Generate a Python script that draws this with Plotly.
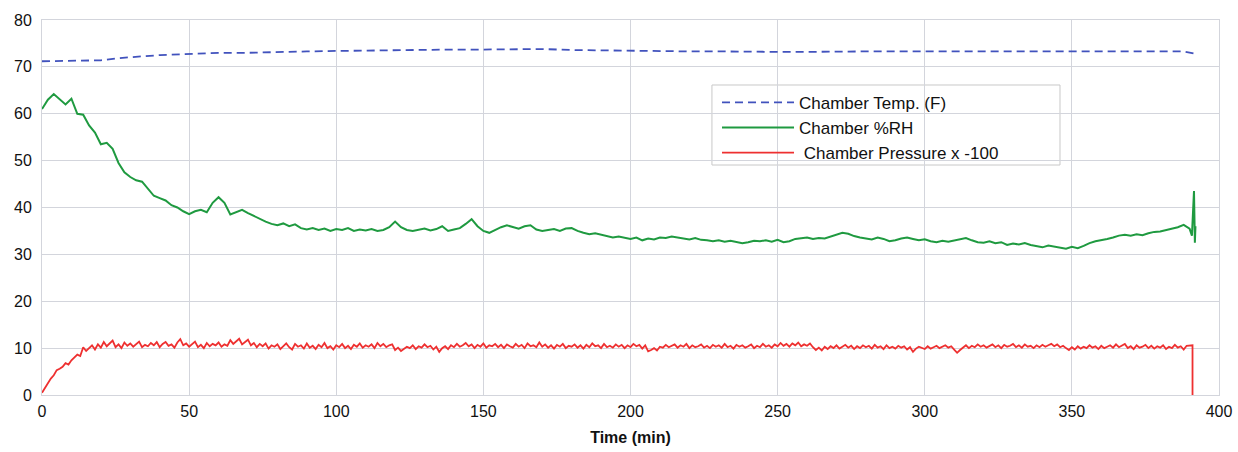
import plotly.graph_objects as go

# Chamber temperature (F)
temp_t = [0, 10, 20, 25, 30, 35, 40, 50, 60, 70, 80, 90, 100, 110, 120, 130, 140, 150, 160, 170,
          180, 190, 200, 210, 220, 230, 240, 250, 260, 270, 280, 290, 300, 310, 320, 330, 340, 350,
          360, 370, 380, 388, 392]
temp_v = [71.2, 71.3, 71.4, 71.8, 72.1, 72.3, 72.5, 72.8, 73.0, 73.0, 73.2, 73.3, 73.4, 73.5, 73.6,
          73.6, 73.7, 73.7, 73.8, 73.8, 73.6, 73.5, 73.4, 73.4, 73.3, 73.3, 73.2, 73.2, 73.2, 73.3,
          73.3, 73.3, 73.3, 73.3, 73.3, 73.3, 73.3, 73.3, 73.3, 73.2, 73.2, 73.3, 72.8]

# Chamber %RH, every 2 min from 0 to 390, then end spike
rh_main = [
    61.0, 63.0, 64.2, 63.2, 62.0, 63.2, 60.0, 59.8, 57.5, 56.0,
    53.5, 53.8, 52.5, 49.5, 47.5, 46.5, 45.8, 45.5, 44.0, 42.5,
    42.0, 41.5, 40.5, 40.0, 39.2, 38.6, 39.2, 39.5, 39.0, 41.0,
    42.2, 41.0, 38.5, 39.0, 39.5, 38.8, 38.2, 37.5, 37.0, 36.5,
    36.2, 36.6, 36.0, 36.4, 35.6, 35.3, 35.6, 35.2, 35.5, 35.0,
    35.4, 35.2, 35.6, 35.0, 35.3, 35.1, 35.4, 35.0, 35.2, 35.8,
    37.0, 35.8, 35.2, 35.0, 35.3, 35.5, 35.1, 35.4, 36.0, 35.0,
    35.3, 35.6, 36.5, 37.5, 36.0, 35.0, 34.6, 35.2, 35.8, 36.2,
    35.8, 35.5, 36.0, 36.2, 35.3, 35.0, 35.2, 35.4, 35.0, 35.5,
    35.6, 35.0, 34.6, 34.3, 34.5, 34.2, 34.0, 33.6, 33.8, 33.5,
    33.3, 33.6, 33.0, 33.4, 33.2, 33.6, 33.5, 33.8, 33.6, 33.4,
    33.2, 33.5, 33.1, 33.0, 32.8, 33.0, 32.7, 32.9, 32.6, 32.4,
    32.6, 32.9, 32.8, 33.0, 32.7, 33.1, 32.6, 32.8, 33.3, 33.5,
    33.6, 33.3, 33.5, 33.4, 33.8, 34.2, 34.6, 34.4, 33.9, 33.6,
    33.4, 33.2, 33.6, 33.3, 32.8, 33.0, 33.4, 33.6, 33.3, 33.0,
    33.2, 32.8, 32.6, 32.9, 32.7, 33.0, 33.3, 33.5, 33.0, 32.6,
    32.5, 32.8, 32.4, 32.6, 32.0, 32.3, 32.1, 32.4, 32.0, 31.8,
    31.5, 31.9, 31.7, 31.5, 31.2, 31.6, 31.3, 31.8, 32.4, 32.8,
    33.0, 33.3, 33.6, 34.0, 34.2, 34.0, 34.3, 34.1, 34.5, 34.8,
    34.9, 35.2, 35.4, 35.8, 36.3, 35.5,
]
rh_end_t = [390.8, 391.5, 391.8, 392.0]
rh_end_v = [34.0, 43.5, 32.5, 36.0]

# Chamber pressure x -100, every 1 min from 0 to 390, then final drop
p_main = [
    0.5, 1.5, 2.8, 3.5, 4.2, 5.3, 5.6, 6.0, 6.8, 6.5, 7.4, 7.9, 8.6, 8.3, 10.2, 9.4, 9.9, 10.6, 9.7, 10.8,
    10.1, 11.3, 10.4, 10.9, 11.6, 10.2, 10.8, 10.0, 11.2, 10.5, 11.0, 10.3, 10.9, 11.4, 10.2, 10.7, 10.4, 11.1, 10.6, 11.3,
    10.2, 10.9, 11.3, 10.5, 10.8, 10.1, 11.2, 11.9, 10.6, 11.0, 10.3, 10.8, 11.4, 10.2, 10.7, 10.0, 11.1, 10.4, 10.9, 10.6,
    11.2, 10.3, 10.8, 10.5, 11.7, 10.9, 11.4, 12.0, 10.8, 11.3, 11.8, 10.6, 11.1, 10.2, 10.9, 10.4, 11.0, 9.9, 10.6, 10.3,
    10.8, 9.8, 10.5, 11.0, 10.2, 9.7, 10.9, 10.3, 10.6, 9.9, 11.0, 10.1, 10.5, 9.8, 10.7, 10.2, 11.1, 10.0, 10.4, 9.7,
    10.6, 10.2, 10.9, 10.0, 10.5, 9.8, 10.7, 10.3, 11.0, 10.1, 10.6, 10.3, 10.8, 10.0, 11.1, 10.4, 10.9, 10.2, 10.6, 10.8,
    9.6, 10.1, 9.4, 9.9, 10.3, 10.0, 10.6, 9.8, 10.4, 10.1, 10.8, 10.2, 10.5, 9.7, 10.3, 9.2, 10.0, 10.4, 9.8, 10.6,
    10.2, 10.9, 10.3, 10.6, 11.1, 10.4, 10.8, 10.0, 10.7, 10.3, 11.0, 10.1, 10.6, 10.4, 10.9, 10.2, 10.7, 10.0, 10.8, 10.4,
    10.1, 10.9, 10.3, 10.7, 10.0, 11.0, 10.4, 10.6, 10.2, 11.2, 10.3, 10.8, 10.1, 10.6, 9.9, 10.7, 10.3, 10.9, 10.0, 10.5,
    10.3, 10.8, 10.1, 10.6, 9.9, 10.7, 10.2, 11.0, 10.4, 10.6, 10.0, 10.9, 10.2, 10.5, 10.1, 10.8, 10.3, 10.7, 10.0, 10.6,
    10.2, 10.9, 10.4, 10.7, 9.9, 10.6, 9.3, 9.6, 10.0, 9.5, 10.3, 10.1, 10.7, 10.2, 10.5, 10.8, 10.1, 10.6, 10.3, 10.9,
    10.0, 10.6, 10.2, 10.4, 10.8, 10.1, 10.5, 10.0, 10.7, 10.3, 10.6, 10.1, 10.9, 10.2, 10.5, 9.9, 10.7, 10.3, 10.6, 10.1,
    10.4, 10.8, 10.0, 10.5, 10.2, 10.9, 10.3, 10.6, 10.1, 10.8, 10.4, 11.1, 10.5, 10.9, 10.3, 11.0, 10.6, 11.2, 10.4, 10.8,
    10.5, 11.0, 10.2, 9.6, 10.1, 9.5, 10.3, 9.8, 10.4, 10.0, 10.6, 9.9, 10.3, 10.7, 10.1, 10.5, 9.8, 10.4, 10.0, 10.6,
    10.2, 10.5, 9.9, 10.7, 10.1, 10.4, 9.8, 10.6, 10.0, 10.3, 9.9, 10.5, 10.1, 10.4, 9.7, 10.2, 9.2, 9.9, 10.3, 10.0,
    9.8, 10.4, 9.9, 10.2, 10.5, 10.0, 10.3, 10.6, 10.1, 10.4, 9.7, 9.0, 9.6, 10.2, 10.6, 10.0, 10.5, 10.2, 10.8, 10.3,
    10.6, 10.1, 10.5, 10.8, 10.2, 10.6, 10.0, 10.7, 10.3, 10.5, 10.9, 10.2, 10.6, 10.1, 10.8, 10.3, 10.5, 10.0, 10.6, 10.2,
    10.7, 10.3, 10.6, 10.9, 10.4, 10.8, 10.2, 10.5, 10.0, 9.6, 10.2, 9.7, 10.4, 9.9, 10.3, 10.0, 10.6, 10.1, 10.4, 9.8,
    10.5, 10.0, 10.3, 10.6, 10.1, 10.8, 10.2, 10.5, 10.9, 10.0, 10.4, 9.8, 10.6, 10.1, 10.3, 10.7, 10.0, 10.5, 9.9, 10.4,
    10.1, 10.6, 9.8, 10.3, 10.0, 10.7, 10.1, 10.4, 9.7, 10.5, 10.6,
]
p_end_t = [391.0, 391.0]
p_end_v = [10.6, 0.0]

rh_t = [2 * i for i in range(len(rh_main))] + rh_end_t
rh_v = rh_main + rh_end_v
p_t = [i for i in range(len(p_main))] + p_end_t
p_v = p_main + p_end_v

GRID = "#d3d5dc"
fig = go.Figure()
fig.add_trace(go.Scatter(x=temp_t, y=temp_v, mode="lines", name="Chamber Temp. (F)",
                         line=dict(color="#4152bd", width=1.8, dash="8px,5px")))
fig.add_trace(go.Scatter(x=rh_t, y=rh_v, mode="lines", name="Chamber %RH",
                         line=dict(color="#1f9a40", width=2)))
fig.add_trace(go.Scatter(x=p_t, y=p_v, mode="lines", name=" Chamber Pressure x -100",
                         line=dict(color="#ee3030", width=1.8)))

# legend frame (white box over the grid)
fig.add_shape(type="rect", xref="paper", yref="paper",
              x0=0.5692, x1=0.8649, y0=0.6133, y1=0.8267,
              fillcolor="white", line=dict(color="#c8c8c8", width=1), layer="between")

fig.update_layout(
    width=1238, height=452,
    margin=dict(l=42, r=19, t=20, b=57),
    paper_bgcolor="white", plot_bgcolor="white",
    font=dict(family="Liberation Sans, Arial, sans-serif", size=16, color="#111"),
    showlegend=True,
    legend=dict(x=0.5735, y=0.827, xanchor="left", yanchor="top",
                bgcolor="rgba(0,0,0,0)", borderwidth=0,
                font=dict(size=17), tracegroupgap=0, itemwidth=72),
    xaxis=dict(range=[0, 400], dtick=50, showgrid=True, gridcolor=GRID, gridwidth=1,
               showline=True, linecolor=GRID, mirror=True, zeroline=False, automargin=False,
               ticks="outside", ticklen=2, tickcolor="rgba(0,0,0,0)", tickfont=dict(size=16),
               title=dict(text="<b>Time (min)</b>", font=dict(size=16), standoff=12)),
    yaxis=dict(range=[0, 80], dtick=10, showgrid=True, gridcolor=GRID, gridwidth=1,
               showline=True, linecolor=GRID, mirror=True, zeroline=False, automargin=False,
               ticks="outside", ticklen=6, tickcolor="rgba(0,0,0,0)", tickfont=dict(size=16)),
)

fig.write_html(
    "out.html",
    config={"displayModeBar": False},
    post_script="document.body.style.margin='0';document.body.style.padding='0';"
                "document.body.style.overflow='hidden';",
)
